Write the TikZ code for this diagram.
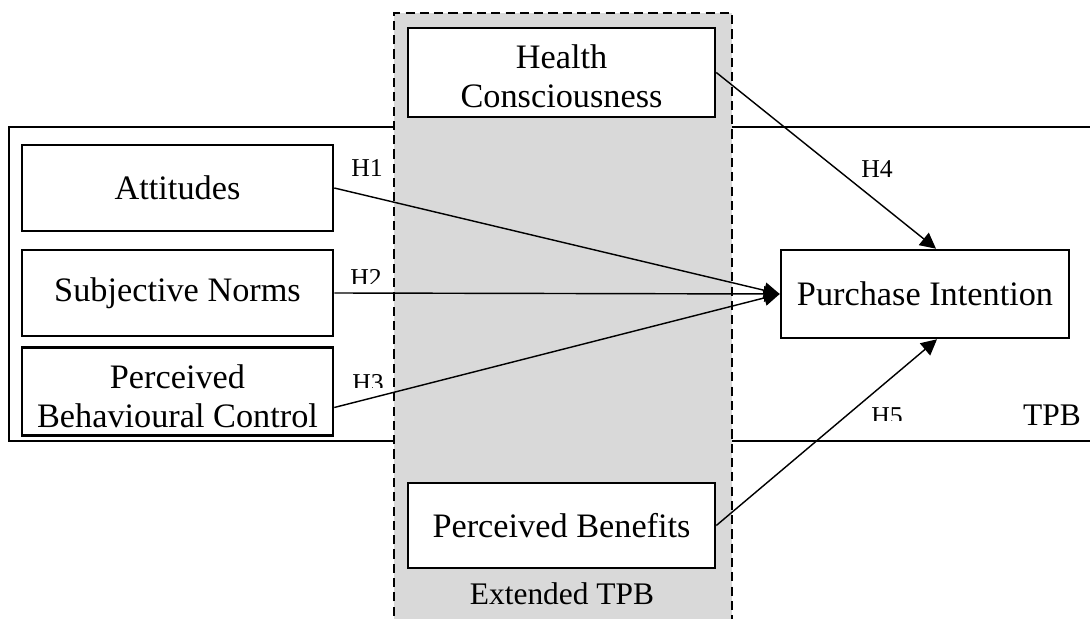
\documentclass[tikz,border=0pt]{standalone}
\usepackage{fontspec}
\setmainfont{Liberation Serif}
\usetikzlibrary{arrows.meta}
\definecolor{colgrey}{HTML}{D9D9D9}
\tikzset{
  box/.style={draw=black, line width=0.9pt, fill=white, align=center, inner sep=0pt,
    font=\fontsize{12}{14}\selectfont},
  boxtext/.style={align=center, inner sep=0pt, font=\fontsize{12}{13.6}\selectfont},
  hyp/.style={anchor=base, inner sep=0pt, font=\fontsize{9}{10}\selectfont},
  conn/.style={line width=0.5pt, -{Triangle[length=5.5pt,width=5.5pt]}},
  lbl/.style={anchor=base, inner sep=0pt, font=\fontsize{11}{13}\selectfont}
}
\begin{document}
\begin{tikzpicture}[x=0.35pt, y=-0.35pt]
\useasboundingbox (0,0) rectangle (1090,619);
\clip (0,0) rectangle (1090,619);
% TPB frame
\draw[line width=0.9pt] (9,127) rectangle (1100,441);
% extended column
\fill[colgrey] (394,13) rectangle (732,630);
\draw[line width=0.9pt, dash pattern=on 3.2pt off 1.8pt] (394,630) -- (394,13) -- (732,13) -- (732,630);
% boxes
\node[box, minimum width=108.85pt, minimum height=30.1pt] (att) at (177.5,188) {Attitudes};
\node[box, minimum width=108.85pt, minimum height=30.1pt] (sn) at (177.5,293) {Subjective Norms};
\node[box, minimum width=108.85pt, minimum height=30.8pt] (pbc) at (177.5,391.5) {};
\node[boxtext] (pbctext) at (177.5,396) {Perceived\\Behavioural Control};
\node[box, minimum width=107.45pt, minimum height=31.15pt] (hc) at (561.5,72.5) {};
\node[boxtext] (hctext) at (561.5,76) {Health\\Consciousness};
\node[box, minimum width=100.8pt, minimum height=30.8pt] (pi) at (925,294) {Purchase Intention};
\node[box, minimum width=107.45pt, minimum height=29.75pt] (pb) at (561.5,525.5) {Perceived Benefits};
% texts
\node[lbl] (tpb) at (1052,426) {TPB};
\node[lbl] (ext) at (562,605) {Extended TPB};
% connectors
\draw[conn] (att.east) -- (pi.west);
\draw[conn] (sn.east) -- (pi.west);
\draw[conn] ([yshift=-5.6pt]pbc.east) -- (pi.west);
\draw[conn] (hc.east) -- ([xshift=3.85pt]pi.north);
\draw[conn] (pb.east) -- ([xshift=4.2pt]pi.south);
% hypothesis labels
\node[hyp] (h1) at (367,177) {H1};
\node[hyp] (h4) at (877,178) {H4};
\begin{scope}
\clip (340,260) rectangle (395,284);
\node[hyp] (h2) at (366,287) {H2};
\end{scope}
\begin{scope}
\clip (340,365) rectangle (395,388);
\node[hyp] (h3) at (368,392) {H3};
\end{scope}
\begin{scope}
\clip (860,400) rectangle (915,421);
\node[hyp] (h5) at (887,425) {H5};
\end{scope}
\end{tikzpicture}
\end{document}
